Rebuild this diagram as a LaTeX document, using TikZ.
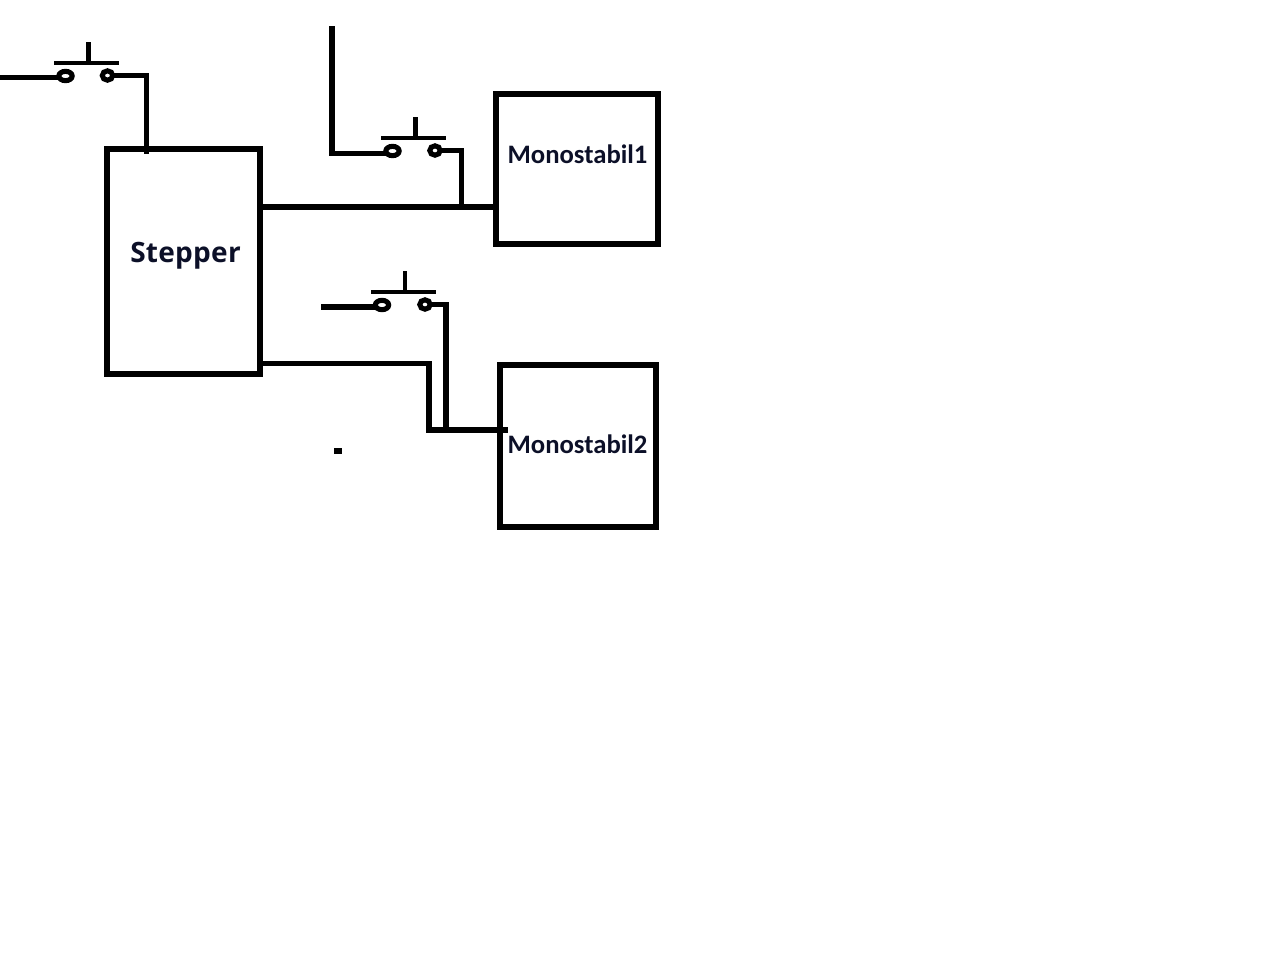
\documentclass[tikz,border=0pt]{standalone}
\usepackage{fontspec}
\setmainfont{Carlito}
\newfontfamily\stepfont[LetterSpace=1]{Open Sans}
\usetikzlibrary{shapes.geometric}
\definecolor{labelink}{RGB}{12,16,40}
\tikzset{
  wire/.style={line width=4pt,line cap=butt,line join=miter,black},
  thinwire/.style={line width=3.6pt,black},
  block/.style={draw=black,line width=4pt,fill=none,inner sep=0pt,outer sep=0pt,rectangle},
  pinl/.style={ellipse,draw=black,line width=3.8pt,inner sep=0pt,outer sep=0pt,minimum width=10pt,minimum height=7pt},
  pinr/.style={ellipse,draw=black,line width=3.8pt,inner sep=0pt,outer sep=0pt,minimum width=7.8pt,minimum height=7pt},
  lbl/.style={inner sep=0pt,outer sep=0pt,text=labelink,font=\bfseries},
}
\begin{document}
\begin{tikzpicture}[x=0.75pt,y=-0.75pt]
\useasboundingbox (0,0) rectangle (1280,958);
% blocks
\node[block,minimum width=114.75pt,minimum height=168.75pt] (stepper) at (183.5,261.5) {};
\node[block,minimum width=121.5pt,minimum height=112.5pt] (mono1) at (577,169) {};
\node[block,minimum width=117pt,minimum height=121.5pt] (mono2) at (578,446) {};
\node[lbl,font=\stepfont\bfseries\fontsize{21}{22}\selectfont] (steppertext) at (185.5,256) {Stepper};
\node[lbl,font=\bfseries\fontsize{20}{22}\selectfont] (mono1text) at (577.5,154) {Monostabil1};
\node[lbl,font=\bfseries\fontsize{20}{22}\selectfont] (mono2text) at (577.5,444) {Monostabil2};
% switch 1
\node[pinl] (a1) at (65.5,76) {};
\node[pinr] (b1) at (107.5,75.5) {};
\coordinate (a1w) at (0,77.5);
\coordinate (bar1l) at (54,63); \coordinate (bar1r) at (119,63);
\coordinate (st1t) at (88.5,42); \coordinate (st1b) at (88.5,63);
\coordinate (k1) at (146.5,75.5); \coordinate (k1e) at (146.5,154);
\draw[wire] (a1w) -- (a1.west |- a1w);
\draw[wire] (b1.east) -- (k1) -- (k1e);
\draw[thinwire] (bar1l) -- (bar1r);
\draw[thinwire] (st1t) -- (st1b);
% switch 2
\node[pinl] (a2) at (392.5,151) {};
\node[pinr] (b2) at (435,150.5) {};
\coordinate (a2t) at (332,26); \coordinate (a2k) at (332,153.5); \coordinate (a2e) at (386,153.5);
\coordinate (bar2l) at (381,138); \coordinate (bar2r) at (446,138);
\coordinate (st2t) at (415.5,117); \coordinate (st2b) at (415.5,138);
\coordinate (k2) at (461.5,150.5); \coordinate (k2e) at (461.5,207);
\draw[wire,line join=miter] (a2t) -- (a2k) -- (a2e);
\draw[wire] (b2.east) -- (k2) -- (k2e);
\draw[thinwire] (bar2l) -- (bar2r);
\draw[thinwire] (st2t) -- (st2b);
% switch 3
\node[pinl] (a3) at (382,305) {};
\node[pinr] (b3) at (425,304.5) {};
\coordinate (a3w) at (321,307);
\coordinate (bar3l) at (371,292); \coordinate (bar3r) at (436,292);
\coordinate (st3t) at (405,271); \coordinate (st3b) at (405,292);
\coordinate (k3) at (446,304.5); \coordinate (k3e) at (446,430);
\draw[wire] (a3w) -- (a3.west |- a3w);
\draw[wire] (b3.east) -- (k3) -- (k3e);
\draw[thinwire] (bar3l) -- (bar3r);
\draw[thinwire] (st3t) -- (st3b);
% stepper outputs
\coordinate (s1) at (260,207); \coordinate (m1) at (496,207);
\draw[wire] (s1) -- (m1);
\coordinate (s2) at (260,363.5); \coordinate (c2) at (429,363.5); \coordinate (c3) at (429,430); \coordinate (m2) at (508,430);
\draw[wire] (s2) -- (c2) -- (c3) -- (m2);
% stray dot
\fill[black] (333.5,448) rectangle (342,454);
\end{tikzpicture}
\end{document}
